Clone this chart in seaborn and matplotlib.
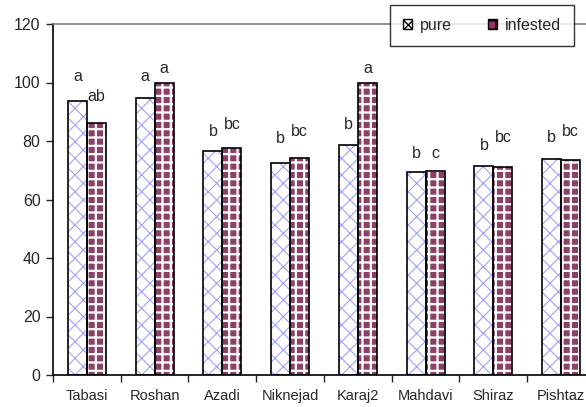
import matplotlib
matplotlib.use("Agg")
import matplotlib.pyplot as plt
from matplotlib.patches import Rectangle, Patch
import seaborn as sns
import pandas as pd

# values
cultivars = ["Tabasi", "Roshan", "Azadi", "Niknejad", "Karaj2", "Mahdavi", "Shiraz", "Pishtaz"]
pure = [93.8, 94.6, 76.6, 72.4, 78.5, 69.3, 71.6, 73.8]
infested = [86.3, 99.7, 77.5, 74.3, 99.7, 69.6, 71.1, 73.4]
pure_letters = ["a", "a", "b", "b", "b", "b", "b", "b"]
infested_letters = ["ab", "a", "bc", "bc", "a", "c", "bc", "bc"]
pure_letter_y = [102, 102, 83.2, 80.9, 85.8, 75.8, 78.3, 81.1]
infested_letter_y = [95.1, 104.9, 85.8, 83.2, 104.9, 75.8, 81.1, 83.4]
y_ticks = [0, 20, 40, 60, 80, 100, 120]

df = pd.DataFrame({
    "cultivar": cultivars * 2,
    "value": pure + infested,
    "treatment": ["pure"] * len(cultivars) + ["infested"] * len(cultivars),
})

sns.set_style("white")
plt.rcParams["font.family"] = ["Liberation Sans", "DejaVu Sans"]
plt.rcParams["hatch.linewidth"] = 1.0

fig = plt.figure(figsize=(5.86, 4.07), dpi=100)
ax = fig.add_axes([53 / 586, 32 / 407, 542 / 586, 351 / 407])

sns.barplot(data=df, x="cultivar", y="value", hue="treatment",
            palette={"pure": "white", "infested": "#993366"},
            width=0.56, gap=0, legend=False, ax=ax)

# (hatch, hatch colour, hatch linewidth)
hatch_styles = [("xx", "#a0a0ff", 0.8), ("++", "white", 1.6)]
for cont, (hatch, hcol, hlw) in zip(ax.containers, hatch_styles):
    for bar in cont:
        bar.set_hatch(hatch)
        bar.set_edgecolor(hcol)
        bar.set_linewidth(0)
        if hasattr(bar, "set_hatch_linewidth"):
            bar.set_hatch_linewidth(hlw)
        # black outline drawn on top
        ax.add_patch(Rectangle(bar.get_xy(), bar.get_width(), bar.get_height(),
                               facecolor="none", edgecolor="black", linewidth=1.2, zorder=3))

# significance letters
for cont, letters, ys in zip(ax.containers, [pure_letters, infested_letters],
                             [pure_letter_y, infested_letter_y]):
    for bar, lab, yy in zip(cont, letters, ys):
        ax.text(bar.get_x() + bar.get_width() / 2, yy, lab, ha="center", va="center",
                fontsize=11.5)

ax.set_ylim(0, 120)
ax.set_xlim(-0.5, len(cultivars) - 0.5)
ax.set_yticks(y_ticks)
ax.set_xlabel("")
ax.set_ylabel("")
ax.tick_params(axis="y", direction="out", length=5, width=1, pad=4, labelsize=11.5, left=True)
ax.set_xticks(range(len(cultivars)))
ax.set_xticklabels(cultivars)
ax.set_xticks([i - 0.5 for i in range(len(cultivars) + 1)], minor=True)
ax.tick_params(axis="x", which="major", length=0, pad=10, labelsize=10.5)
ax.tick_params(axis="x", which="minor", direction="out", length=5, width=1, bottom=True)

for side in ["left", "bottom"]:
    ax.spines[side].set_color("black")
    ax.spines[side].set_linewidth(1.2)
ax.spines["right"].set_visible(False)
ax.spines["top"].set_color("#808080")
ax.spines["top"].set_linewidth(1.2)

handles = [Patch(facecolor="white", edgecolor="#a0a0ff", hatch="xx"),
           Patch(facecolor="#993366", edgecolor="white", hatch="++")]
leg = fig.legend(handles, ["pure", "infested"], ncol=2, loc="upper right",
                 bbox_to_anchor=(574 / 586, 1 - 5 / 407), borderaxespad=0,
                 fontsize=11.5, handlelength=0.6, handleheight=0.6,
                 handletextpad=0.5, columnspacing=2.2, frameon=True,
                 fancybox=False, borderpad=0.8)
leg.get_frame().set_edgecolor("black")
leg.get_frame().set_linewidth(1)
for h in leg.legend_handles:
    h.set_edgecolor("black")

fig.savefig("out.png", dpi=100)
